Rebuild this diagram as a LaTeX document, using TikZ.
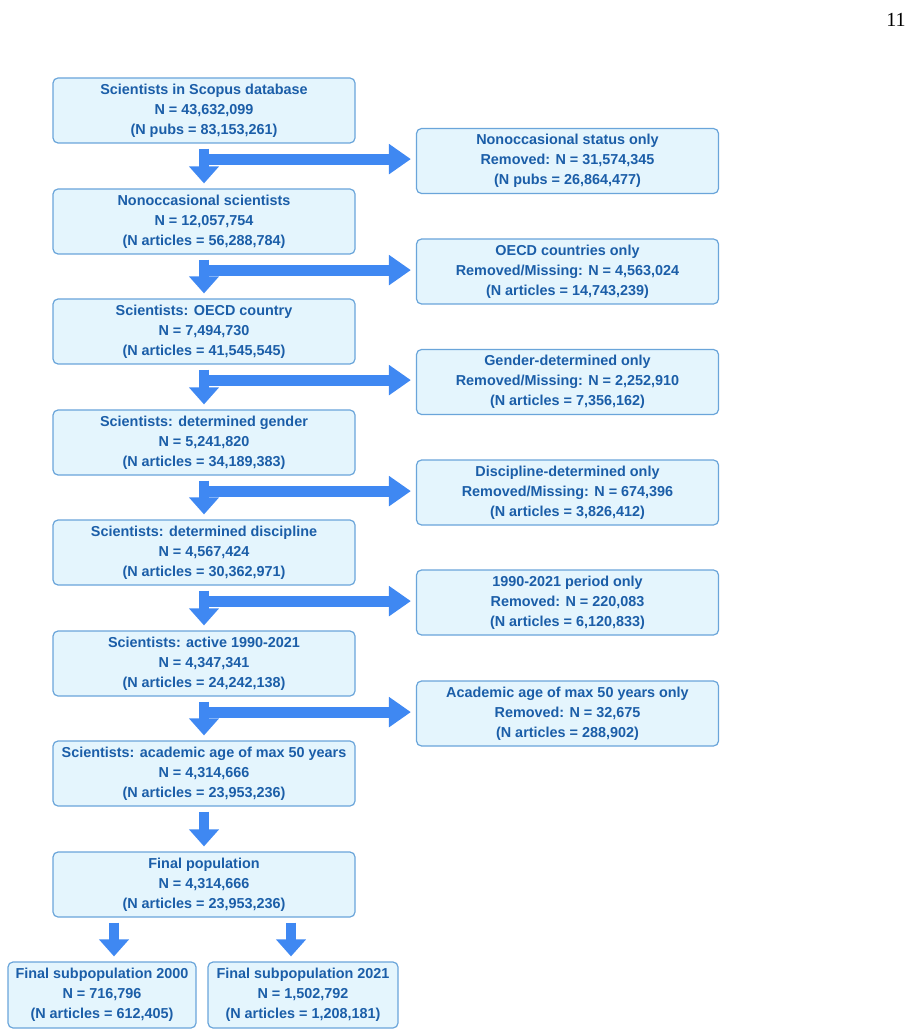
\documentclass[tikz,border=0pt]{standalone}
\usepackage{fontspec}
\setmainfont{Liberation Sans}
\newfontfamily\serifnum{Liberation Serif}
\usetikzlibrary{arrows.meta,calc}
\definecolor{txt}{HTML}{1B5EA8}
\definecolor{boxfill}{HTML}{E4F5FD}
\definecolor{boxline}{HTML}{6AA5DA}
\definecolor{arr}{HTML}{3F88F2}
\begin{document}
\begin{tikzpicture}[x=0.5pt,y=-0.5pt,
 box/.style={draw=boxline, fill=boxfill, line width=0.6pt, rounded corners=2.5pt,
   minimum width=151pt, minimum height=32.5pt, align=center, text=txt,
   font=\fontsize{7.2}{10}\selectfont\bfseries, inner sep=0pt},
 sboxa/.style={box, minimum width=94pt, minimum height=33pt},
 sboxb/.style={box, minimum width=95pt, minimum height=33pt},
 vdown/.style={draw=arr, line width=5pt, -{Triangle[width=14.5pt,length=8.5pt]},
   shorten <=2.5pt, shorten >=2.5pt},
 hright/.style={draw=arr, line width=5.5pt, -{Triangle[width=14.5pt,length=11pt]},
   shorten >=2.5pt}]
\useasboundingbox (0,0) rectangle (913,1036);

\node[font=\fontsize{10}{12}\selectfont\serifnum] (pg) at (896,20) {11};

\node[box] (L1) at (204,110.5) {Scientists in Scopus database\\N = 43,632,099\\(N pubs = 83,153,261)};
\node[box] (L2) at (204,221.5) {Nonoccasional scientists\\N = 12,057,754\\(N articles = 56,288,784)};
\node[box] (L3) at (204,331.5) {Scientists: OECD country\\N = 7,494,730\\(N articles = 41,545,545)};
\node[box] (L4) at (204,442.5) {Scientists: determined gender\\N = 5,241,820\\(N articles = 34,189,383)};
\node[box] (L5) at (204,552.5) {Scientists: determined discipline\\N = 4,567,424\\(N articles = 30,362,971)};
\node[box] (L6) at (204,663.5) {Scientists: active 1990-2021\\N = 4,347,341\\(N articles = 24,242,138)};
\node[box] (L7) at (204,773.5) {Scientists: academic age of max 50 years\\N = 4,314,666\\(N articles = 23,953,236)};
\node[box] (L8) at (204,884.5) {Final population\\N = 4,314,666\\(N articles = 23,953,236)};

\node[box] (R1) at (567.5,161) {Nonoccasional status only\\Removed: N = 31,574,345\\(N pubs = 26,864,477)};
\node[box] (R2) at (567.5,271.5) {OECD countries only\\Removed/Missing: N = 4,563,024\\(N articles = 14,743,239)};
\node[box] (R3) at (567.5,382) {Gender-determined only\\Removed/Missing: N = 2,252,910\\(N articles = 7,356,162)};
\node[box] (R4) at (567.5,492.5) {Discipline-determined only\\Removed/Missing: N = 674,396\\(N articles = 3,826,412)};
\node[box] (R5) at (567.5,602.5) {1990-2021 period only\\Removed: N = 220,083\\(N articles = 6,120,833)};
\node[box] (R6) at (567.5,713.5) {Academic age of max 50 years only\\Removed: N = 32,675\\(N articles = 288,902)};

\node[sboxa] (B1) at (102,995) {Final subpopulation 2000\\N = 716,796\\(N articles = 612,405)};
\node[sboxb] (B2) at (303,995) {Final subpopulation 2021\\N = 1,502,792\\(N articles = 1,208,181)};

\foreach \i/\r in {1/R1,2/R2,3/R3,4/R4,5/R5,6/R6}{
  \coordinate (h\i) at ($(L\i.south)+(0,15.5)$);
  \draw[hright] (h\i) -- (h\i -| \r.west);
}
\foreach \i [evaluate=\i as \j using int(\i+1)] in {1,...,7}{
  \draw[vdown] (L\i.south) -- (L\j.north);
}
\coordinate (s1) at ($(L8.south)+(-90,0)$);
\coordinate (s2) at ($(L8.south)+(87,0)$);
\draw[vdown] (s1) -- (s1 |- B1.north);
\draw[vdown] (s2) -- (s2 |- B2.north);
\end{tikzpicture}
\end{document}
